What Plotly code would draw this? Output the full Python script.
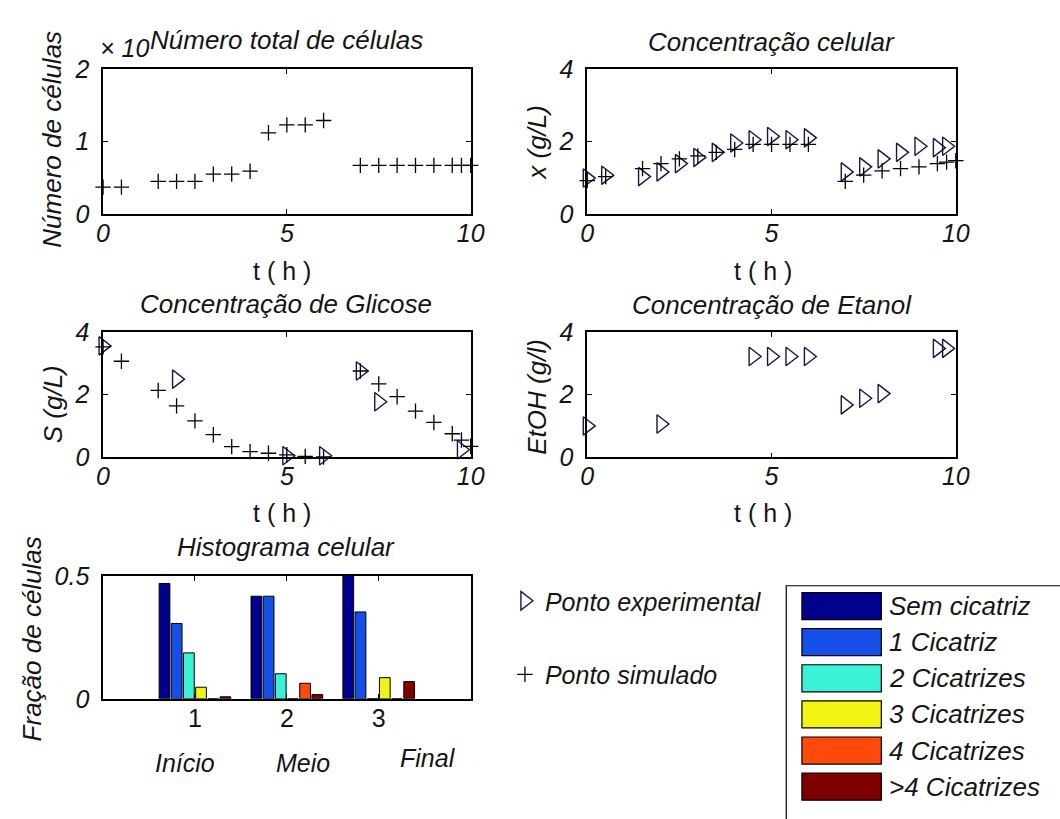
import plotly.graph_objects as go

W, H = 1060, 819
FONT = "Liberation Sans, Arial, sans-serif"
INK = "#151515"
TRI = "#16164a"

# ---------------- data ----------------
t_sim = [0, 0.5, 1.5, 2, 2.5, 3, 3.5, 4, 4.5, 5, 5.5, 6, 7, 7.5, 8, 8.5, 9, 9.5, 9.75, 10]
n_cells_sim = [0.37, 0.37, 0.45, 0.45, 0.45, 0.55, 0.55, 0.59, 1.12, 1.23, 1.23, 1.29,
               0.67, 0.67, 0.67, 0.67, 0.67, 0.67, 0.67, 0.67]
x_sim = [0.92, 1.03, 1.25, 1.39, 1.52, 1.60, 1.70, 1.78, 1.92, 1.92, 1.92, 1.92,
         0.90, 1.07, 1.19, 1.25, 1.30, 1.39, 1.43, 1.47]
s_sim = [3.52, 3.06, 2.13, 1.64, 1.16, 0.72, 0.34, 0.18, 0.13, 0.08, 0.03, 0.01,
         2.75, 2.34, 1.93, 1.47, 1.11, 0.75, 0.55, 0.35]

t_x_exp = [0, 0.5, 1.5, 2, 2.5, 3, 3.5, 4, 4.5, 5, 5.5, 6, 7, 7.5, 8, 8.5, 9, 9.5, 9.75]
x_exp = [0.99, 1.07, 1.03, 1.16, 1.39, 1.56, 1.70, 1.96, 2.05, 2.14, 2.05, 2.10,
         1.16, 1.30, 1.52, 1.70, 1.87, 1.83, 1.87]

t_s_exp = [0, 2, 5, 6, 7, 7.5, 9.75]
s_exp = [3.55, 2.49, 0.05, 0.05, 2.75, 1.77, 0.24]

t_e_exp = [0, 2, 4.5, 5, 5.5, 6, 7, 7.5, 8, 9.5, 9.75]
etoh_exp = [1.00, 1.06, 3.21, 3.21, 3.21, 3.21, 1.67, 1.88, 2.03, 3.47, 3.47]

hist_x = [1, 2, 3]
hist_ticks = ["1", "2", "3"]
phase_labels = ["Início", "Meio", "Final"]
scar_names = ["Sem cicatriz", "1 Cicatriz", "2 Cicatrizes", "3 Cicatrizes",
              "4 Cicatrizes", ">4 Cicatrizes"]
scar_colors = ["#00008c", "#1450e8", "#3cf2d6", "#f2f416", "#ff4a0c", "#800000"]
scar_values = [
    [0.470, 0.418, 0.510],
    [0.307, 0.418, 0.354],
    [0.187, 0.102, 0.000],
    [0.047, 0.000, 0.086],
    [0.000, 0.063, 0.000],
    [0.008, 0.017, 0.070],
]

# ---------------- helpers ----------------
def PX(p):
    return p / W


def PY(p):
    return 1 - p / H


def sim_trace(x, y, ax, show=False):
    return go.Scatter(
        x=x, y=y, mode="markers", xaxis="x" + ax, yaxis="y" + ax,
        marker=dict(symbol="cross-thin", size=11, color="black",
                    line=dict(width=1.3, color="black")),
        name="Ponto simulado", legendgroup="sim", legendrank=2,
        showlegend=show, cliponaxis=False)


def exp_trace(x, y, ax, show=False):
    return go.Scatter(
        x=x, y=y, mode="markers", xaxis="x" + ax, yaxis="y" + ax,
        marker=dict(symbol="triangle-right-open", size=16, color=TRI,
                    line=dict(width=1.4, color=TRI)),
        name="Ponto experimental", legendgroup="exp", legendrank=1,
        showlegend=show, cliponaxis=False)


fig = go.Figure()
fig.add_trace(sim_trace(t_sim, n_cells_sim, "", show=True))
fig.add_trace(exp_trace(t_x_exp, x_exp, "2", show=True))
fig.add_trace(sim_trace(t_sim, x_sim, "2"))
fig.add_trace(exp_trace(t_s_exp, s_exp, "3"))
fig.add_trace(sim_trace(t_sim, s_sim, "3"))
fig.add_trace(exp_trace(t_e_exp, etoh_exp, "4"))

for name, color, vals in zip(scar_names, scar_colors, scar_values):
    fig.add_trace(go.Bar(x=hist_x, y=vals, name=name, xaxis="x5", yaxis="y5",
                         marker=dict(color=color, line=dict(color="black", width=1)),
                         showlegend=False))

# ---------------- axes ----------------
tick_it = dict(family=FONT, size=25, color=INK, style="italic")
base = dict(showline=True, linecolor="black", linewidth=1.5, mirror="ticks",
            ticks="inside", ticklen=5, tickwidth=1.2, tickcolor="black",
            showgrid=False, zeroline=False, tickfont=tick_it, fixedrange=True)

boxes = {
    "": ((98, 473), (57, 207)),
    "2": ((592, 968), (57, 207)),
    "3": ((98, 473), (329, 459)),
    "4": ((592, 968), (329, 459)),
    "5": ((98, 473), (582, 709)),
}
yranges = {"": ([0, 2], 1), "2": ([0, 4], 2), "3": ([0, 4], 2), "4": ([0, 4], 2)}

layout_axes = {}
for k, ((x0, x1), (y0, y1)) in boxes.items():
    xa = dict(base, domain=[PX(x0), PX(x1)], anchor="y" + k, ticklabelstandoff=-4)
    ya = dict(base, domain=[PY(y1), PY(y0)], anchor="x" + k, ticklabelstandoff=7)
    if k == "5":
        xa.update(range=[0, 4], tickvals=hist_x, ticktext=hist_ticks,
                  tickfont=dict(family=FONT, size=25, color=INK))
        ya.update(range=[0, 0.5], tickvals=[0, 0.5], ticktext=["0", "0.5"])
    else:
        xa.update(range=[0, 10], tickvals=[0, 5, 10])
        r, d = yranges[k]
        ya.update(range=r, dtick=d, tick0=0)
    layout_axes["xaxis" + k] = xa
    layout_axes["yaxis" + k] = ya

fig.update_layout(**layout_axes)

# ---------------- text ----------------
ann = []


def text(s, x, y, size=26, italic=True, angle=0, xanchor="center", yanchor="middle"):
    f = dict(family=FONT, size=size, color=INK)
    if italic:
        f["style"] = "italic"
    ann.append(dict(text=s, x=PX(x), y=PY(y), xref="paper", yref="paper",
                    showarrow=False, font=f, textangle=angle,
                    xanchor=xanchor, yanchor=yanchor))


# panel titles
text("Número total de células", 285, 27)
text("Concentração celular", 780, 29)
text("Concentração de Glicose", 285, 300)
text("Concentração de Etanol", 780, 301)
text("Histograma celular", 285, 552)
text("× 10", 120, 35, size=25)

# axis titles
text("Número de células", 45, 130, angle=-90)
text("x (g/L)", 541, 133, angle=-90)
text("S (g/L)", 47, 404, angle=-90)
text("EtOH (g/l)", 541, 396, angle=-90)
text("Fração de células", 25, 647, angle=-90)
for xc, yc in [(281, 266), (771, 266), (281, 517), (771, 517)]:
    text("t ( h )", xc, yc, size=25, italic=False)

# phase labels under histogram
for lab, xc, yc in zip(phase_labels, [182, 302, 430], [775, 775, 770]):
    text(lab, xc, yc, size=25)

# bar legend (box, swatches, labels) - box runs past the right and bottom edges
shapes = [dict(type="rect", xref="paper", yref="paper",
               x0=PX(795), x1=PX(1120), y0=PY(880), y1=PY(592),
               line=dict(color="black", width=1.2), fillcolor="white", layer="below")]
for i, (name, color) in enumerate(zip(scar_names, scar_colors)):
    top = 599 + i * 37.4
    shapes.append(dict(type="rect", xref="paper", yref="paper",
                       x0=PX(811), x1=PX(892), y0=PY(top + 28), y1=PY(top),
                       line=dict(color="black", width=1.2), fillcolor=color))
    text(name, 898, top + 14, size=26, xanchor="left")

fig.update_layout(
    width=W, height=H,
    margin=dict(l=0, r=0, t=0, b=0),
    paper_bgcolor="white", plot_bgcolor="white",
    bargap=0.205, bargroupgap=0.117, barmode="group",
    annotations=ann, shapes=shapes,
    showlegend=True,
    legend=dict(x=PX(508), y=PY(584), xanchor="left", yanchor="top",
                bgcolor="rgba(0,0,0,0)", borderwidth=0,
                traceorder="grouped", tracegroupgap=38,
                font=dict(family=FONT, size=25, color=INK, style="italic")),
    font=dict(family=FONT, color=INK),
)

fig.write_html("out.html",
               config={"displayModeBar": False},
               post_script="document.body.style.margin='0px';document.body.style.overflow='hidden';")
